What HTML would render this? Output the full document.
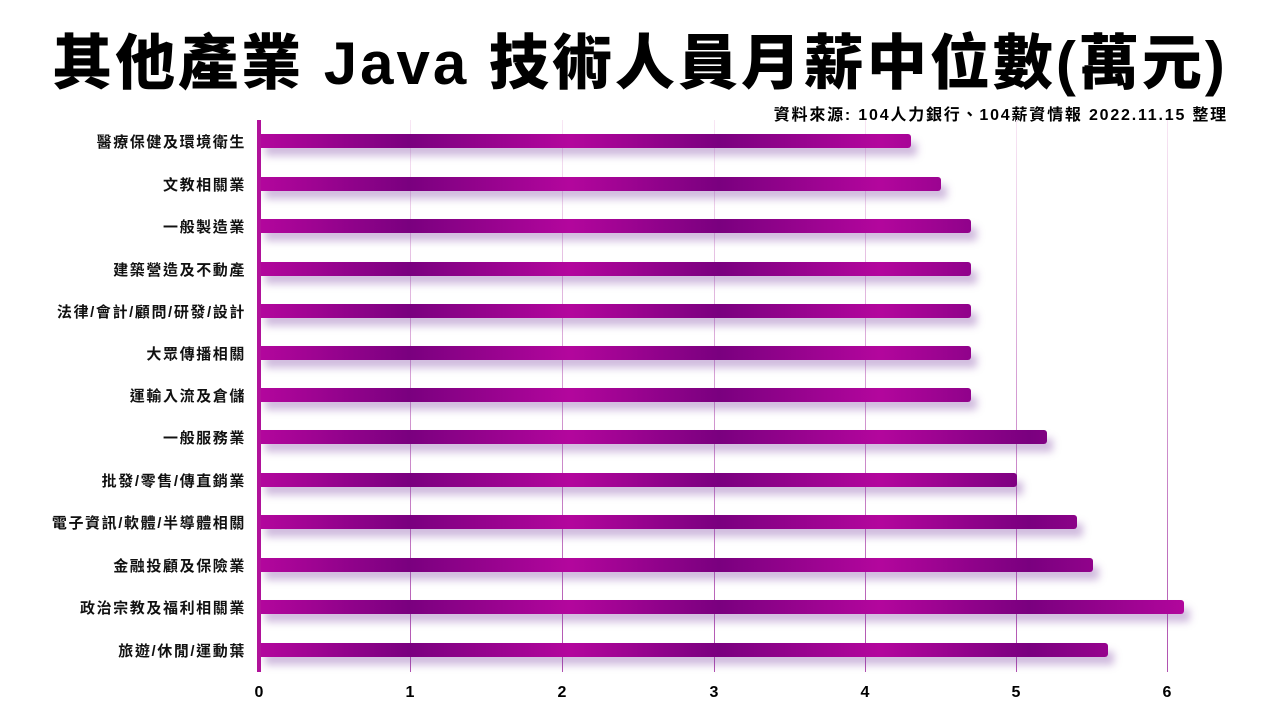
<!DOCTYPE html>
<html><head><meta charset="utf-8"><style>
body{margin:0;width:1280px;height:720px;background:#fff;position:relative;overflow:hidden;font-family:"Liberation Sans","Noto Sans CJK TC",sans-serif;}
.t{position:absolute;left:0;width:1280px;top:22px;text-align:center;font-size:60px;font-weight:900;color:#000;line-height:84px;letter-spacing:3px}
.s{position:absolute;right:52px;top:101px;font-size:16px;font-weight:bold;color:#000;letter-spacing:1.8px}
.g{position:absolute;top:120px;height:552px;width:1px;background:linear-gradient(#f8e6f4,#b050b0)}
.ax{position:absolute;left:257px;top:120px;width:4px;height:552px;background:#b0129a}
.b{position:absolute;left:259px;height:14px;border-radius:0 3px 3px 0;background:repeating-linear-gradient(90deg,#b3069d 0px,#7a007f 150px,#b3069d 310px);box-shadow:6px 8px 8px rgba(120,60,160,0.35)}
.l{position:absolute;right:1034px;font-size:15px;font-weight:bold;color:#111;text-align:right;white-space:nowrap;letter-spacing:1.6px}
.x{position:absolute;top:684px;font-size:16px;font-weight:bold;width:30px;margin-left:-15px;text-align:center}
</style></head><body>
<div class="t">其他產業 Java 技術人員月薪中位數(萬元)</div>
<div class="s">資料來源: 104人力銀行、104薪資情報 2022.11.15 整理</div>
<div class="g" style="left:410px"></div><div class="g" style="left:562px"></div><div class="g" style="left:714px"></div><div class="g" style="left:865px"></div><div class="g" style="left:1016px"></div><div class="g" style="left:1167px"></div>
<div class="x" style="left:259px">0</div><div class="x" style="left:410px">1</div><div class="x" style="left:562px">2</div><div class="x" style="left:714px">3</div><div class="x" style="left:865px">4</div><div class="x" style="left:1016px">5</div><div class="x" style="left:1167px">6</div>
<div class="b" style="top:134px;width:652px"></div><div class="l" style="top:131px">醫療保健及環境衛生</div>
<div class="b" style="top:177px;width:682px"></div><div class="l" style="top:174px">文教相關業</div>
<div class="b" style="top:219px;width:712px"></div><div class="l" style="top:216px">一般製造業</div>
<div class="b" style="top:262px;width:712px"></div><div class="l" style="top:259px">建築營造及不動產</div>
<div class="b" style="top:304px;width:712px"></div><div class="l" style="top:301px">法律/會計/顧問/研發/設計</div>
<div class="b" style="top:346px;width:712px"></div><div class="l" style="top:343px">大眾傳播相關</div>
<div class="b" style="top:388px;width:712px"></div><div class="l" style="top:385px">運輸入流及倉儲</div>
<div class="b" style="top:430px;width:788px"></div><div class="l" style="top:427px">一般服務業</div>
<div class="b" style="top:473px;width:758px"></div><div class="l" style="top:470px">批發/零售/傳直銷業</div>
<div class="b" style="top:515px;width:818px"></div><div class="l" style="top:512px">電子資訊/軟體/半導體相關</div>
<div class="b" style="top:558px;width:834px"></div><div class="l" style="top:555px">金融投顧及保險業</div>
<div class="b" style="top:600px;width:925px"></div><div class="l" style="top:597px">政治宗教及福利相關業</div>
<div class="b" style="top:643px;width:849px"></div><div class="l" style="top:640px">旅遊/休閒/運動葉</div>
<div class="ax"></div>
</body></html>
